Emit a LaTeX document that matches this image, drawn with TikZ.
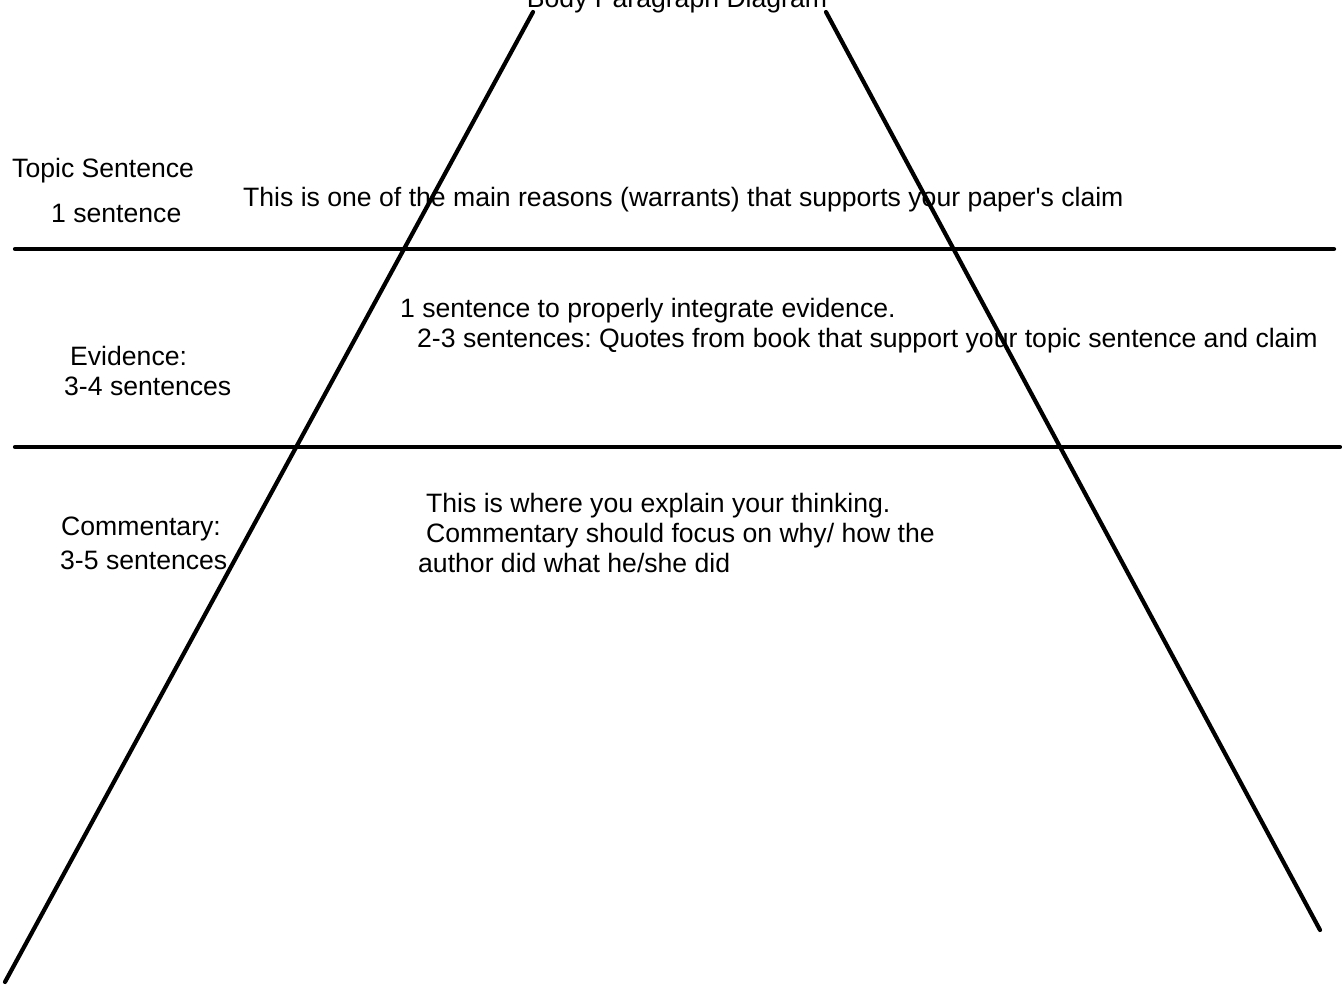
\documentclass[tikz,border=0pt]{standalone}
\usepackage{fontspec}
\setmainfont{Liberation Sans}
\usepackage{tikz}
\frenchspacing
\tikzstyle{label} = [anchor=base west, inner sep=0pt, font=\fontsize{26.6}{32}\selectfont]
\tikzstyle{line} = [line width=4.2pt, line cap=round]

\begin{document}
\begin{tikzpicture}[x=1pt, y=-1pt]
\useasboundingbox (0,0) rectangle (1342,985);

% slanted sides and section lines
\coordinate (lefttop) at (533,12);
\coordinate (leftbot) at (5,982);
\coordinate (righttop) at (826,12);
\coordinate (rightbot) at (1320,930);
\coordinate (topicleft) at (15,249);
\coordinate (topicright) at (1334,249);
\coordinate (evidleft) at (15,447);
\coordinate (evidright) at (1340,447);

\node (title) [label, anchor=base] at (677,8) {Body Paragraph Diagram};

\node (topic) [label] at (12,177) {Topic Sentence};
\node (topicnum) [label] at (51,222) {1 sentence};
\node (topictext) [label] at (243,206) {This is one of the main reasons (warrants) that supports your paper\textquotesingle s claim};

\node (evid) [label] at (70,365) {Evidence:};
\node (evidnum) [label] at (64,395) {3-4 sentences};
\node (evidtext1) [label] at (400,317) {1 sentence to properly integrate evidence.};
\node (evidtext2) [label] at (417,347) {2-3 sentences: Quotes from book that support your topic sentence and claim};

\node (comm) [label] at (61,535) {Commentary:};
\node (commnum) [label] at (60,569) {3-5 sentences};
\node (commtext1) [label] at (426,512) {This is where you explain your thinking.};
\node (commtext2) [label] at (426,542) {Commentary should focus on why/ how the};
\node (commtext3) [label] at (418,572) {author did what he/she did};

\draw [line] (lefttop) -- (leftbot);
\draw [line] (righttop) -- (rightbot);
\draw [line] (topicleft) -- (topicright);
\draw [line] (evidleft) -- (evidright);

\end{tikzpicture}
\end{document}
